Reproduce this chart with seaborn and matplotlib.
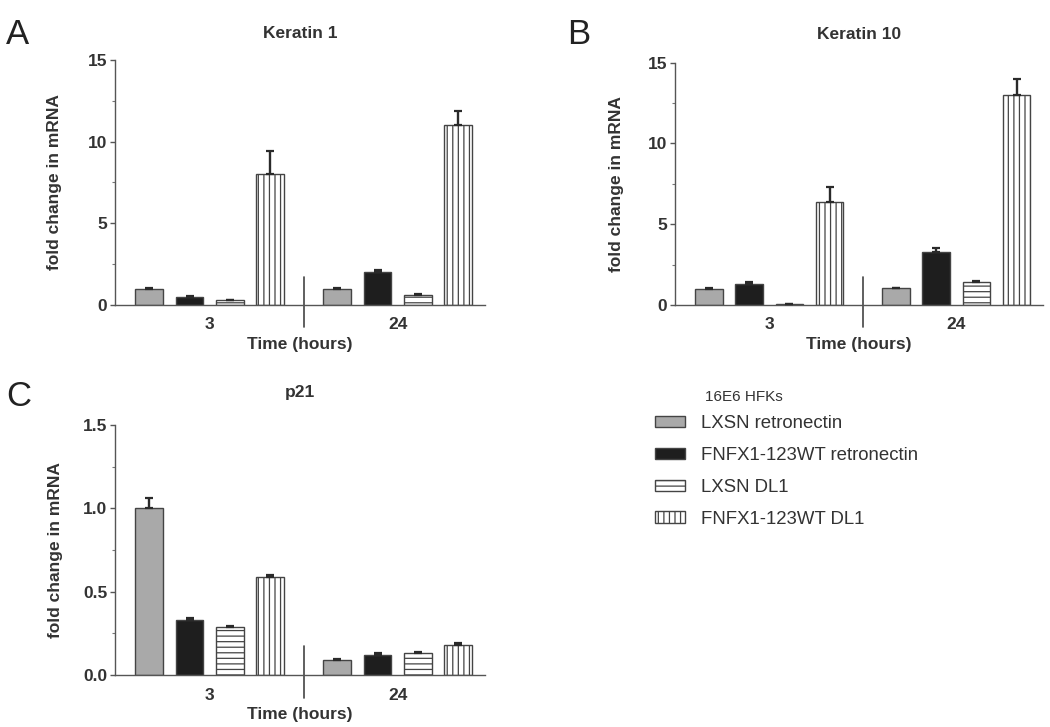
import numpy as np
import pandas as pd
import matplotlib
matplotlib.use('Agg')
import matplotlib.pyplot as plt
import seaborn as sns
from matplotlib.ticker import MultipleLocator, FormatStrFormatter

sns.set_style('ticks')
plt.rcParams['font.family'] = ['Liberation Sans', 'DejaVu Sans']
plt.rcParams['hatch.linewidth'] = 0.9
plt.rcParams['hatch.color'] = '#444444'

# --- data ---
series = ["LXSN retronectin", "FNFX1-123WT retronectin", "LXSN DL1", "FNFX1-123WT DL1"]
times = ["3", "24"]
fill_colors = ['#a9a9a9', '#1e1e1e', 'white', 'white']
hatches = ['', '', '---', '|||']

# Keratin 1
krt1_3h = [1.0, 0.5, 0.3, 8.0]
krt1_24h = [1.0, 2.0, 0.6, 11.0]
krt1_err_3h = [0.06, 0.06, 0.03, 1.4]
krt1_err_24h = [0.06, 0.12, 0.05, 0.9]

# Keratin 10
krt10_3h = [1.0, 1.3, 0.03, 6.4]
krt10_24h = [1.03, 3.25, 1.42, 13.0]
krt10_err_3h = [0.08, 0.1, 0.0, 0.9]
krt10_err_24h = [0.05, 0.3, 0.08, 1.0]

# p21
p21_3h = [1.0, 0.33, 0.29, 0.59]
p21_24h = [0.09, 0.12, 0.13, 0.18]
p21_err_3h = [0.06, 0.012, 0.006, 0.008]
p21_err_24h = [0.006, 0.012, 0.008, 0.012]

txt = '#333333'


def make_frame(v3, v24, e3, e24):
    rows = []
    for s, a, b, ea, eb in zip(series, v3, v24, e3, e24):
        rows.append({'time': '3', 'series': s, 'value': a, 'err': ea})
        rows.append({'time': '24', 'series': s, 'value': b, 'err': eb})
    return pd.DataFrame(rows)


def draw_panel(ax, df, title, ymax, step, fmt, title_pad, ylab_x):
    sns.barplot(data=df, x='time', y='value', hue='series', order=times,
                hue_order=series, palette=fill_colors, saturation=1,
                width=0.86, gap=0.31, edgecolor='#444444', linewidth=1,
                errorbar=None, legend=False, ax=ax)
    bars = list(ax.containers)
    for cont, h, s in zip(bars, hatches, series):
        sub = df[df.series == s].set_index('time').loc[times]
        xs = [b.get_x() + b.get_width() / 2 for b in cont]
        for b in cont:
            b.set_hatch(h)
        ax.errorbar(xs, sub['value'], yerr=[np.zeros(len(xs)), sub['err']],
                    fmt='none', ecolor='#2a2a2a', elinewidth=1.7,
                    capsize=2.6, capthick=1.6, zorder=3)

    ax.set_xlim(-0.504, 1.464)
    ax.set_ylim(0, ymax)
    ax.axvline(0.5, ymin=-0.09, ymax=0.115, clip_on=False, color='#444444', lw=1.2)

    ax.yaxis.set_major_locator(MultipleLocator(step))
    ax.yaxis.set_minor_locator(MultipleLocator(step / 2))
    ax.yaxis.set_major_formatter(FormatStrFormatter(fmt))
    ax.tick_params(axis='y', which='major', length=3.5, width=1, color='#555555',
                   labelsize=12.5, labelcolor=txt, pad=2)
    ax.tick_params(axis='y', which='minor', length=2, width=0.8, color='#777777')
    ax.tick_params(axis='x', length=0, labelsize=12.5, labelcolor=txt, pad=9)
    for lab in ax.get_xticklabels() + ax.get_yticklabels():
        lab.set_fontweight('bold')

    ax.set_title(title, fontsize=12.5, fontweight='bold', color=txt, pad=title_pad)
    ax.set_xlabel('Time (hours)', fontsize=12.5, fontweight='bold', color=txt, labelpad=3)
    ax.set_ylabel('fold change in mRNA', fontsize=12.5, fontweight='bold', color=txt)
    ax.yaxis.set_label_coords(ylab_x, 0.5)

    sns.despine(ax=ax)
    for sp in ['left', 'bottom']:
        ax.spines[sp].set_color('#555555')
        ax.spines[sp].set_linewidth(1)
    return bars


fig = plt.figure(figsize=(10.5, 7.27), dpi=100)
axA = fig.add_axes([0.1095, 0.5805, 0.3524, 0.337])
axB = fig.add_axes([0.6429, 0.5805, 0.3505, 0.3333])
axC = fig.add_axes([0.1095, 0.0715, 0.3524, 0.3439])

draw_panel(axA, make_frame(krt1_3h, krt1_24h, krt1_err_3h, krt1_err_24h),
           'Keratin 1', 15, 5, '%d', 16, -0.143)
draw_panel(axB, make_frame(krt10_3h, krt10_24h, krt10_err_3h, krt10_err_24h),
           'Keratin 10', 15, 5, '%d', 17, -0.14)
bars_c = draw_panel(axC, make_frame(p21_3h, p21_24h, p21_err_3h, p21_err_24h),
                    'p21', 1.5, 0.5, '%.1f', 20, -0.14)

# panel letters
fig.text(0.006, 0.953, 'A', fontsize=25, color='#222222', va='center')
fig.text(0.540, 0.953, 'B', fontsize=25, color='#222222', va='center')
fig.text(0.006, 0.454, 'C', fontsize=25, color='#222222', va='center')

# legend
handles = [c.patches[0] for c in bars_c]
fig.text(705 / 1050, 1 - 397 / 727, '16E6 HFKs', fontsize=11, color=txt, va='center')
fig.legend(handles, series, loc='upper left', bbox_to_anchor=(655 / 1050, 1 - 415 / 727),
           frameon=False, fontsize=13.4, labelcolor=txt, handlelength=1.62,
           handleheight=0.55, handletextpad=0.85, labelspacing=0.8, borderpad=0,
           borderaxespad=0)

fig.savefig('out.png', dpi=100, facecolor='white')
